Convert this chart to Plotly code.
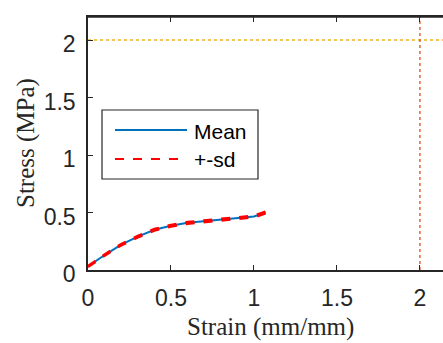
import plotly.graph_objects as go

# Mean stress-strain curve
strain = [0.0, 0.1, 0.2, 0.3, 0.4, 0.5, 0.6, 0.7, 0.8, 0.9, 1.0, 1.07]
stress_mean = [0.03, 0.13, 0.22, 0.29, 0.35, 0.385, 0.41, 0.425, 0.435, 0.45, 0.465, 0.50]
# Standard deviation band (very narrow)
stress_sd = [0.004, 0.005, 0.006, 0.006, 0.007, 0.007, 0.007, 0.007, 0.007, 0.007, 0.007, 0.008]
# Reference limits
limit_stress = 2.0
limit_strain = 2.0

x_ticks = [0, 0.5, 1, 1.5, 2]
y_ticks = [0, 0.5, 1, 1.5, 2]
x_range = [0, 2.139]
y_range = [0, 2.2]

axis_col = "#262626"
W, H = 443, 343
ml, mt, mr, mb = 88, 17, 0, 73

fig = go.Figure()

upper = [m + s for m, s in zip(stress_mean, stress_sd)]
lower = [m - s for m, s in zip(stress_mean, stress_sd)]

fig.add_trace(go.Scatter(x=strain, y=stress_mean, mode="lines",
                         line=dict(color="#0072BD", width=2), name="Mean"))
fig.add_trace(go.Scatter(x=strain, y=upper, mode="lines",
                         line=dict(color="#FF0000", width=2.5, dash="dash"), name="+-sd"))
fig.add_trace(go.Scatter(x=strain, y=lower, mode="lines",
                         line=dict(color="#FF0000", width=2.5, dash="dash"), showlegend=False))

# Limit lines
fig.add_trace(go.Scatter(x=[x_range[0], x_range[1]], y=[limit_stress, limit_stress], mode="lines",
                         line=dict(color="#EDB120", width=1.3, dash="dot"), showlegend=False))
fig.add_trace(go.Scatter(x=[limit_strain, limit_strain], y=[y_range[0], y_range[1]], mode="lines",
                         line=dict(color="#D95319", width=1.3, dash="dot"), showlegend=False))

tick_font = dict(family="Liberation Sans, Arial", size=23, color=axis_col)

fig.update_xaxes(range=x_range, tickvals=x_ticks, ticktext=[str(t) for t in x_ticks],
                 ticks="inside", ticklen=5, tickcolor=axis_col, tickwidth=1,
                 showline=True, linecolor=axis_col, linewidth=1.5, mirror="ticks",
                 showgrid=False, zeroline=False, tickfont=tick_font, ticklabelstandoff=7)
fig.update_yaxes(range=y_range, tickvals=y_ticks, ticktext=[str(t) for t in y_ticks],
                 ticks="inside", ticklen=5, tickcolor=axis_col, tickwidth=1,
                 showline=True, linecolor=axis_col, linewidth=1.5,
                 showgrid=False, zeroline=False, tickfont=tick_font, ticklabelstandoff=6,
                 ticklabelshift=4)

# Top border of the axes box
fig.add_shape(type="line", xref="paper", yref="paper", x0=0, x1=1, y0=1, y1=1,
              line=dict(color=axis_col, width=1.5))

pw, ph = W - ml - mr, H - mt - mb
def px(x):
    return (x - ml) / pw
def py(y):
    return (H - mb - y) / ph

title_font = dict(family="Liberation Serif, Times New Roman", size=25, color=axis_col)
fig.add_annotation(text="Strain (mm/mm)", xref="paper", yref="paper",
                   x=px(270), y=py(327),
                   showarrow=False, font=title_font, xanchor="center", yanchor="middle")
fig.add_annotation(text="Stress (MPa)", xref="paper", yref="paper",
                   x=px(26), y=py(143),
                   showarrow=False, font=title_font, textangle=-90,
                   xanchor="center", yanchor="middle")

# Legend box
fig.add_shape(type="rect", xref="paper", yref="paper",
              x0=px(102), x1=px(258), y0=py(179), y1=py(110),
              line=dict(color=axis_col, width=1.2), fillcolor="white", layer="above")
fig.add_shape(type="line", xref="paper", yref="paper",
              x0=px(115), x1=px(187), y0=py(130), y1=py(130),
              line=dict(color="#0072BD", width=2), layer="above")
fig.add_shape(type="line", xref="paper", yref="paper",
              x0=px(115), x1=px(187), y0=py(159), y1=py(159),
              line=dict(color="#FF0000", width=2, dash="dash"), layer="above")
leg_font = dict(family="Liberation Sans, Arial", size=21, color="#000000")
fig.add_annotation(text="Mean", xref="paper", yref="paper", x=px(192), y=py(131),
                   showarrow=False, font=leg_font, xanchor="left", yanchor="middle")
fig.add_annotation(text="+-sd", xref="paper", yref="paper", x=px(192), y=py(159),
                   showarrow=False, font=leg_font, xanchor="left", yanchor="middle")

fig.update_layout(width=W, height=H, margin=dict(l=ml, r=mr, t=mt, b=mb),
                  paper_bgcolor="white", plot_bgcolor="white", showlegend=False)

fig.write_html("out.html")
